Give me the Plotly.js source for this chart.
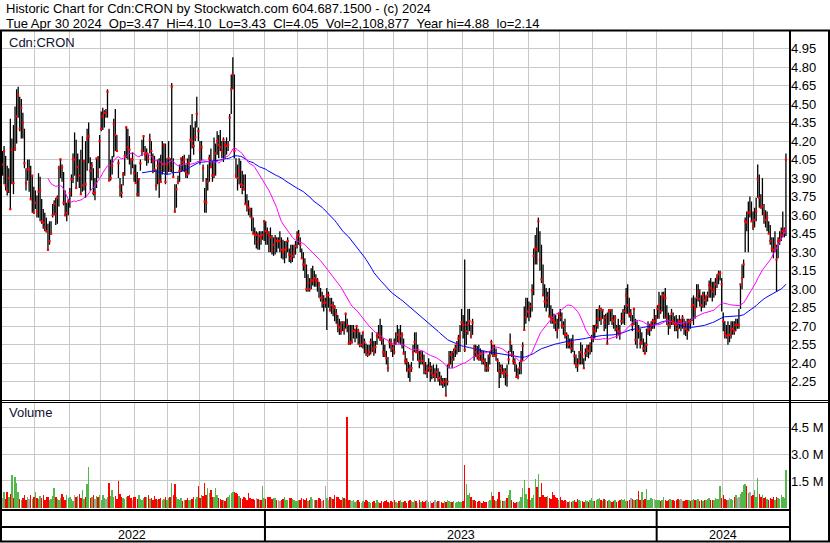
<!DOCTYPE html>
<html><head><meta charset="utf-8">
<script src="https://cdn.plot.ly/plotly-3.0.1.min.js"></script>
<style>html,body{margin:0;padding:0;background:#fff;overflow:hidden}#chart{width:830px;height:543px}</style>
</head><body><div id="chart"></div>
<script>
// ---- data (daily bars, Cdn:CRON, May 2022 - Apr 2024) ----
const startDate = '2022-05-02';
const holidays = ['2022-05-23','2022-07-01','2022-08-01','2022-09-05','2022-10-10','2022-12-26','2022-12-27',
  '2023-01-02','2023-02-20','2023-04-07','2023-05-22','2023-07-03','2023-08-07','2023-09-04','2023-10-09','2023-12-25','2023-12-26',
  '2024-01-01','2024-02-19','2024-03-29'];

const high = [
4.12,4.16,4.08,4.00,3.98,4.38,4.22,4.33,4.48,4.62,
4.64,4.56,4.54,4.43,4.30,3.98,4.05,4.05,4.00,3.92,
3.83,3.80,3.76,3.94,3.91,3.73,3.65,3.62,3.58,3.53,
3.55,3.55,3.69,3.72,3.74,3.76,4.00,4.06,4.01,3.95,
3.80,3.70,3.73,3.82,3.93,4.10,4.27,4.21,4.10,4.05,
4.13,4.24,4.04,4.20,4.30,4.35,4.07,4.03,3.98,3.90,
4.06,4.08,4.25,4.44,4.47,4.45,4.46,4.62,4.30,4.05,
4.08,4.38,4.46,4.25,4.05,3.90,3.85,3.95,4.12,4.32,
4.30,4.24,4.06,4.11,4.01,4.01,3.95,3.90,4.05,4.21,
4.24,4.16,4.14,4.10,4.26,4.20,4.10,4.08,3.97,4.05,
4.06,4.09,4.20,4.18,4.18,4.06,4.20,4.06,4.67,4.06,
3.85,3.85,3.92,4.01,4.06,4.08,4.09,4.01,4.06,4.09,
4.33,4.42,4.31,4.36,4.56,4.31,4.20,4.20,4.01,3.82,
3.90,4.01,4.09,4.14,4.04,4.23,4.18,4.28,4.25,4.29,
4.20,4.23,4.20,4.23,4.20,4.42,4.74,4.88,4.74,4.06,
4.01,4.06,4.04,3.96,3.93,3.93,3.77,3.72,3.66,3.66,
3.58,3.50,3.47,3.46,3.47,3.47,3.47,3.56,3.55,3.50,
3.47,3.50,3.44,3.42,3.44,3.42,3.42,3.47,3.42,3.40,
3.39,3.39,3.42,3.33,3.36,3.36,3.36,3.39,3.47,3.48,
3.42,3.33,3.30,3.25,3.20,3.12,3.09,3.17,3.19,3.15,
3.12,
3.09,3.06,3.01,2.98,2.95,2.93,3.01,2.98,2.93,2.93,
2.90,2.87,2.84,2.79,2.76,2.74,2.74,2.74,2.81,2.76,
2.71,2.71,2.71,2.71,2.68,2.71,2.68,2.65,2.63,2.65,
2.60,2.56,2.55,2.55,2.60,2.65,2.58,2.58,2.65,2.71,
2.76,2.71,2.60,2.55,2.50,2.45,2.60,2.60,2.55,2.60,
2.65,2.71,2.68,2.71,2.65,2.60,2.50,2.44,2.41,2.39,
2.41,2.55,2.65,2.65,2.55,2.50,2.50,2.50,2.47,2.41,
2.39,2.44,2.41,2.38,2.39,2.36,2.39,2.36,2.33,2.30,
2.28,2.28,2.28,2.39,2.50,2.50,2.50,2.52,2.55,2.58,
2.63,2.71,2.84,2.79,3.24,2.74,2.84,2.84,2.71,2.76,
2.55,
2.55,2.54,2.55,2.52,2.50,2.50,2.44,2.41,2.47,2.50,
2.59,2.55,2.55,2.52,2.44,2.41,2.39,2.39,2.36,2.36,
2.39,2.50,2.64,2.55,2.50,2.44,2.39,2.36,2.41,2.50,
2.57,2.86,2.93,2.93,2.90,2.89,3.04,3.33,3.44,3.50,
3.58,3.47,3.36,3.20,3.04,3.01,2.98,3.01,2.87,2.84,
2.80,2.79,2.76,2.81,2.84,2.81,2.74,2.76,2.65,2.63,
2.60,2.60,2.63,2.50,2.47,2.44,2.50,2.57,2.55,2.44,
2.52,2.55,2.55,2.57,2.63,2.71,2.71,2.84,2.84,2.87,
2.85,2.84,2.79,2.80,2.81,2.84,2.84,2.84,2.79,2.79,
2.71,2.76,2.71,2.81,2.84,2.87,3.01,3.04,2.93,2.84,
2.79,
2.85,2.76,2.74,2.71,2.68,2.65,2.60,2.57,2.68,2.74,
2.72,2.74,2.76,2.84,2.79,2.87,2.98,2.95,2.98,2.98,
3.01,2.87,2.81,2.79,2.84,2.81,2.78,2.79,2.76,2.79,
2.76,2.79,2.76,2.74,2.76,2.76,2.76,2.93,2.95,2.93,
3.04,3.04,3.00,2.95,2.98,2.98,2.95,2.98,3.07,3.09,
3.06,3.06,3.09,3.12,3.15,3.15,3.09,2.81,2.74,2.71,
2.74,2.71,2.74,2.74,2.74,2.76,2.76,2.84,3.04,3.20,
3.24,3.58,3.63,3.71,3.75,3.71,3.63,3.66,3.74,4.01,
3.93,3.77,3.90,3.69,3.64,3.63,3.55,3.52,3.42,3.42,
3.47,3.36,3.42,3.47,3.50,3.63,3.50,4.10];

const low = [
3.92,3.85,3.80,3.76,3.78,3.64,3.85,3.77,4.12,4.18,
4.39,4.28,4.22,4.22,3.98,3.80,3.88,3.79,3.72,3.62,
3.61,3.65,3.58,3.58,3.55,3.53,3.49,3.47,3.46,3.31,
3.36,3.44,3.58,3.60,3.52,3.53,3.67,3.90,3.87,3.68,
3.59,3.55,3.60,3.66,3.75,3.86,3.92,3.82,3.87,3.82,
3.77,3.79,3.80,3.74,3.96,4.02,3.80,3.88,3.76,3.72,
3.82,3.90,3.98,4.28,4.29,4.31,4.39,4.39,3.88,3.88,
3.93,4.07,4.12,4.12,3.90,3.75,3.74,3.84,3.92,4.06,
4.05,4.01,3.93,3.98,3.87,3.86,3.75,3.75,3.96,4.08,
4.11,4.04,4.00,4.02,4.10,4.02,3.94,3.95,3.80,3.85,
3.74,3.87,3.93,3.95,3.85,3.93,3.95,3.95,3.95,3.91,
3.62,3.66,3.85,3.87,3.95,3.96,3.95,3.90,3.90,3.93,
4.03,4.14,4.09,4.20,4.31,4.20,4.01,4.04,3.87,3.62,
3.62,3.80,3.87,3.98,3.87,3.90,3.92,4.09,4.06,4.12,
4.06,4.03,4.06,4.09,4.12,4.20,4.42,4.62,4.06,3.90,
3.80,3.85,3.82,3.77,3.80,3.69,3.63,3.60,3.58,3.47,
3.45,3.36,3.33,3.32,3.32,3.36,3.40,3.39,3.36,3.36,
3.30,3.30,3.28,3.27,3.28,3.30,3.33,3.30,3.25,3.24,
3.21,3.25,3.30,3.22,3.21,3.22,3.25,3.28,3.33,3.36,
3.30,3.25,3.15,3.09,2.98,2.98,2.98,3.00,3.03,3.02,
3.02,
2.98,2.93,2.90,2.85,2.82,2.85,2.67,2.85,2.82,2.80,
2.78,2.74,2.72,2.65,2.63,2.63,2.66,2.63,2.68,2.65,
2.55,2.55,2.56,2.60,2.57,2.60,2.55,2.53,2.53,2.52,
2.48,2.46,2.45,2.46,2.47,2.49,2.46,2.48,2.55,2.60,
2.58,2.55,2.45,2.45,2.39,2.33,2.52,2.49,2.45,2.47,
2.55,2.57,2.56,2.55,2.52,2.47,2.39,2.33,2.28,2.25,
2.33,2.42,2.49,2.49,2.42,2.36,2.39,2.39,2.31,2.31,
2.28,2.33,2.25,2.27,2.28,2.25,2.28,2.25,2.22,2.22,
2.20,2.21,2.13,2.22,2.36,2.39,2.36,2.42,2.45,2.47,
2.49,2.49,2.66,2.60,2.49,2.55,2.63,2.66,2.60,2.63,
2.42,
2.45,2.43,2.42,2.42,2.39,2.39,2.33,2.33,2.33,2.39,
2.47,2.45,2.45,2.42,2.33,2.20,2.28,2.31,2.28,2.22,
2.21,2.39,2.49,2.45,2.39,2.33,2.28,2.27,2.31,2.31,
2.42,2.67,2.72,2.77,2.74,2.77,2.82,2.95,3.20,3.20,
3.30,3.15,3.05,2.95,2.85,2.82,2.85,2.77,2.72,2.72,
2.68,2.66,2.60,2.68,2.74,2.68,2.63,2.60,2.52,2.52,
2.52,2.48,2.49,2.39,2.36,2.33,2.39,2.39,2.39,2.36,
2.42,2.45,2.44,2.47,2.49,2.57,2.60,2.65,2.68,2.74,
2.71,2.76,2.66,2.68,2.55,2.71,2.74,2.71,2.68,2.66,
2.60,2.63,2.59,2.71,2.72,2.71,2.80,2.80,2.77,2.74,
2.66,
2.71,2.55,2.52,2.60,2.52,2.55,2.49,2.47,2.49,2.63,
2.62,2.66,2.68,2.68,2.71,2.76,2.76,2.80,2.82,2.76,
2.76,2.71,2.63,2.68,2.71,2.71,2.66,2.66,2.60,2.68,
2.66,2.68,2.63,2.62,2.59,2.66,2.68,2.74,2.71,2.76,
2.85,2.90,2.86,2.82,2.85,2.85,2.87,2.90,2.93,2.93,
2.90,2.93,2.95,3.01,3.04,3.07,2.82,2.66,2.60,2.60,
2.55,2.57,2.60,2.63,2.63,2.66,2.68,2.68,2.84,3.00,
3.09,3.30,3.47,3.30,3.58,3.55,3.48,3.50,3.55,3.74,
3.66,3.66,3.60,3.53,3.50,3.47,3.45,3.36,3.30,3.25,
3.30,2.98,3.25,3.36,3.39,3.42,3.42,3.43];

const close = [
4.01,4.12,3.84,3.80,3.90,3.65,4.13,3.86,4.14,4.40,
4.57,4.30,4.47,4.35,4.02,3.86,3.97,3.97,3.73,3.92,
3.62,3.70,3.63,3.79,3.80,3.55,3.54,3.50,3.47,3.32,
3.39,3.45,3.60,3.69,3.61,3.74,3.98,4.05,3.99,3.70,
3.60,3.62,3.71,3.78,3.89,4.05,4.05,3.82,3.99,3.92,
3.77,3.84,4.04,3.85,4.22,4.24,3.96,4.00,3.78,3.78,
4.06,3.95,4.20,4.30,4.40,4.43,4.43,4.60,3.88,3.90,
4.00,4.34,4.25,4.12,4.02,3.83,3.78,3.93,4.08,4.31,
4.15,4.13,4.05,4.05,3.94,3.86,3.77,3.89,4.02,4.12,
4.24,4.09,4.10,4.06,4.21,4.12,4.04,3.97,3.84,4.00,
3.88,3.87,4.01,4.17,3.87,4.01,4.06,3.98,4.64,3.91,
3.63,3.81,3.87,3.96,4.06,4.03,4.05,3.95,3.93,4.02,
4.21,4.20,4.16,4.23,4.42,4.28,4.13,4.15,3.98,3.71,
3.70,3.87,4.06,3.99,3.92,3.93,4.10,4.20,4.17,4.15,
4.12,4.21,4.17,4.16,4.17,4.39,4.62,4.74,4.12,3.92,
3.90,3.96,3.85,3.84,3.81,3.69,3.68,3.66,3.64,3.58,
3.45,3.44,3.44,3.38,3.43,3.42,3.44,3.55,3.47,3.46,
3.44,3.42,3.32,3.36,3.40,3.39,3.39,3.39,3.32,3.30,
3.32,3.33,3.39,3.28,3.25,3.27,3.30,3.35,3.42,3.44,
3.36,3.25,3.20,3.19,3.00,3.05,3.00,3.07,3.07,3.09,
3.07,
3.07,3.04,2.93,2.93,2.89,2.89,2.95,2.95,2.83,2.87,
2.86,2.85,2.80,2.71,2.69,2.66,2.73,2.67,2.80,2.71,
2.56,2.57,2.57,2.66,2.67,2.70,2.66,2.55,2.55,2.65,
2.57,2.50,2.47,2.49,2.57,2.52,2.49,2.53,2.62,2.63,
2.60,2.59,2.49,2.47,2.44,2.36,2.57,2.55,2.52,2.49,
2.57,2.63,2.60,2.62,2.63,2.48,2.42,2.41,2.35,2.34,
2.36,2.49,2.57,2.49,2.49,2.42,2.46,2.42,2.39,2.33,
2.33,2.36,2.36,2.32,2.30,2.30,2.33,2.28,2.28,2.25,
2.24,2.25,2.14,2.25,2.39,2.47,2.43,2.49,2.52,2.55,
2.60,2.62,2.73,2.71,2.51,2.66,2.71,2.74,2.62,2.73,
2.52,
2.49,2.46,2.44,2.48,2.43,2.42,2.39,2.36,2.36,2.46,
2.57,2.54,2.46,2.47,2.42,2.33,2.36,2.32,2.33,2.33,
2.30,2.43,2.57,2.47,2.42,2.40,2.29,2.29,2.36,2.42,
2.54,2.67,2.77,2.82,2.81,2.86,2.99,3.27,3.33,3.32,
3.55,3.24,3.08,2.95,2.90,2.89,2.93,2.78,2.77,2.75,
2.74,2.73,2.67,2.80,2.77,2.71,2.70,2.63,2.63,2.55,
2.56,2.52,2.57,2.46,2.39,2.38,2.42,2.49,2.46,2.36,
2.48,2.52,2.50,2.54,2.60,2.68,2.66,2.71,2.76,2.84,
2.76,2.83,2.73,2.77,2.56,2.82,2.83,2.76,2.74,2.77,
2.68,2.66,2.65,2.74,2.78,2.82,2.95,2.87,2.80,2.80,
2.71,
2.84,2.59,2.68,2.66,2.56,2.57,2.52,2.48,2.55,2.66,
2.68,2.71,2.74,2.74,2.77,2.84,2.87,2.82,2.93,2.95,
2.93,2.77,2.71,2.73,2.80,2.74,2.72,2.71,2.68,2.74,
2.74,2.77,2.71,2.68,2.66,2.74,2.73,2.86,2.87,2.84,
2.93,2.98,2.92,2.87,2.95,2.91,2.93,2.95,3.03,3.01,
2.98,3.00,3.04,3.09,3.12,3.13,3.04,2.74,2.64,2.62,
2.63,2.63,2.67,2.68,2.66,2.71,2.71,2.71,3.04,3.09,
3.20,3.55,3.54,3.62,3.62,3.55,3.51,3.56,3.63,3.89,
3.74,3.66,3.67,3.61,3.56,3.58,3.45,3.39,3.33,3.32,
3.36,3.24,3.39,3.40,3.44,3.47,3.48,4.05];

// volume in millions of shares
const volume = [
0.55,0.85,0.48,0.90,0.62,0.75,1.84,0.52,1.70,1.36,
0.90,0.50,0.42,0.55,0.68,0.45,0.58,0.50,0.72,0.48,
0.62,0.90,0.55,0.48,0.66,0.52,0.70,0.44,0.58,0.62,
0.45,0.50,0.66,1.10,0.58,0.48,0.40,0.52,0.76,0.60,
0.45,0.72,0.55,0.62,0.50,0.38,0.70,0.58,0.66,0.74,
0.52,1.00,0.48,0.62,1.30,2.30,0.55,0.62,0.70,0.50,
0.64,0.58,0.72,0.45,0.70,0.55,0.48,0.60,1.36,0.66,
1.00,0.58,0.66,0.50,1.50,0.75,0.62,0.55,0.48,0.60,
0.66,0.70,0.52,0.45,0.62,0.58,0.50,0.72,0.48,0.40,
0.55,0.62,0.58,0.70,0.48,0.52,0.45,0.66,0.50,0.42,
0.48,0.55,0.40,0.50,0.62,0.45,0.52,0.58,1.40,0.72,
1.30,0.60,0.48,0.40,0.55,0.38,0.45,0.40,0.52,0.45,
0.40,0.50,0.58,0.48,0.62,1.20,0.55,0.70,0.66,1.36,
0.70,1.10,0.80,1.00,0.62,0.58,1.10,0.70,0.55,0.48,
0.40,0.45,0.38,0.52,0.62,0.70,0.80,0.90,0.85,0.80,
0.75,0.66,0.55,0.48,0.60,0.52,0.45,0.80,0.55,0.48,
0.50,0.42,0.55,0.48,0.40,0.45,1.20,0.55,0.50,0.60,
0.58,0.62,0.48,0.55,0.52,0.45,0.40,0.38,0.45,0.50,
0.58,0.45,0.40,0.52,0.55,0.48,0.42,0.38,0.35,0.40,
0.45,0.55,0.48,0.40,0.52,0.38,0.45,0.62,0.50,0.45,
0.40,0.42,0.55,0.48,0.38,0.45,1.20,0.52,0.45,0.60,
0.55,0.48,0.70,0.62,0.58,0.50,0.45,0.62,0.55,0.50,
5.10,0.45,0.40,0.35,0.42,0.30,0.38,0.45,0.32,0.28,
0.35,0.30,0.42,0.38,0.32,0.25,0.30,0.36,0.28,0.40,
0.32,0.28,0.35,0.30,0.38,0.42,0.30,0.28,0.35,0.32,
0.40,0.30,0.28,0.35,0.45,0.32,0.30,0.38,0.28,0.35,
0.42,0.38,0.30,0.45,0.35,0.28,0.40,0.32,0.35,0.30,
0.38,0.42,0.30,0.35,0.28,0.32,0.40,0.30,0.35,0.38,
0.32,0.28,0.35,0.30,0.42,0.38,0.32,0.30,0.35,0.28,
0.30,0.35,0.32,0.30,0.38,2.40,1.30,0.70,0.80,0.60,
0.45,0.40,0.35,0.30,0.38,0.32,0.28,0.35,0.30,0.32,
0.38,0.42,0.90,0.65,0.40,0.35,0.50,0.85,0.45,0.38,
0.35,0.42,0.55,0.70,1.00,0.45,0.30,0.28,0.32,0.30,
0.35,0.60,1.10,1.55,0.75,0.50,1.10,0.45,0.55,0.70,
1.60,1.15,1.90,0.60,1.36,0.70,0.62,0.58,0.65,0.55,
0.50,0.85,0.70,0.62,0.55,0.45,0.60,0.40,0.38,0.45,
0.35,0.32,0.38,0.30,0.35,0.40,0.32,0.50,0.45,0.38,
0.35,0.30,0.42,0.38,0.32,0.45,0.52,0.38,0.35,0.42,
0.48,0.55,0.40,0.35,0.50,0.45,0.38,0.42,0.35,0.30,
0.38,0.45,0.32,0.35,0.40,0.48,0.42,0.50,0.38,0.35,
0.42,0.55,0.48,0.40,0.45,0.50,0.95,0.45,0.85,0.40,
0.50,1.04,0.45,0.40,0.55,0.48,0.50,0.42,0.45,0.40,
0.38,0.45,0.60,0.42,0.38,0.45,0.50,0.40,0.42,0.38,
0.45,0.50,0.42,0.48,0.38,0.35,0.42,0.45,0.40,0.38,
0.42,0.48,0.40,0.45,0.50,0.38,0.42,0.35,0.40,0.45,
0.48,0.52,0.45,0.40,0.42,0.55,0.48,0.50,1.23,0.55,
0.70,0.48,0.45,0.42,0.55,0.50,0.45,0.62,0.70,0.55,
0.60,0.75,0.90,1.27,1.33,1.20,0.80,0.85,0.65,0.70,
1.00,0.62,1.65,0.75,0.60,0.70,0.55,0.62,0.50,0.45,
0.55,0.48,0.62,0.45,0.58,0.55,0.50,0.72,0.60,0.55,
2.11];

const priceTicks = [2.25,2.40,2.55,2.70,2.85,3.00,3.15,3.30,3.45,3.60,3.75,3.90,4.05,4.20,4.35,4.50,4.65,4.80,4.95];
const priceTickText = ['2.25','2.40','2.55','2.70','2.85','3.00','3.15','3.30','3.45','3.60','3.75','3.90','4.05','4.20','4.35','4.50','4.65','4.80','4.95'];
const volumeTicks = [1.5, 3.0, 4.5];
const volumeTickText = ['1.5 M','3.0 M','4.5 M'];
const maShortPeriod = 30, maLongPeriod = 90;
const headerLine1 = 'Historic Chart for Cdn:CRON by Stockwatch.com 604.687.1500 - (c) 2024';
const headerLine2 = 'Tue Apr 30 2024  Op=3.47  Hi=4.10  Lo=3.43  Cl=4.05  Vol=2,108,877  Year hi=4.88  lo=2.14';
const symbolLabel = 'Cdn:CRON';
const volumeLabel = 'Volume';

// ---- derived ----
function tradingDays(n){
  const out=[]; const d=new Date(startDate+'T00:00:00Z');
  while(out.length<n){
    const wd=d.getUTCDay(); const s=d.toISOString().slice(0,10);
    if(wd>0 && wd<6 && !holidays.includes(s)) out.push(s);
    d.setUTCDate(d.getUTCDate()+1);
  }
  return out;
}
const N = close.length;
const dates = tradingDays(N);
const idx = dates.map((_,i)=>i);
const monthGrid=[], yearStarts=[];
for(let i=1;i<N;i++){
  if(dates[i].slice(0,7)!==dates[i-1].slice(0,7)) monthGrid.push(i-0.5);
  if(dates[i].slice(0,4)!==dates[i-1].slice(0,4)) yearStarts.push(i);
}
function sma(arr,p){return arr.map((_,i)=>{if(i<p-1)return null;let s=0;for(let k=i-p+1;k<=i;k++)s+=arr[k];return s/p;});}
const maShort = sma(close, maShortPeriod);
const maLong = sma(close, maLongPeriod);

const barX=[], barY=[];
for(let i=0;i<N;i++){barX.push(i,i,null);barY.push(low[i],high[i],null);}
const volColors = close.map((c,i)=> i===0 ? '#a8a8a8' : (c>close[i-1] ? '#52b84a' : (c<close[i-1] ? '#ff0000' : '#a8a8a8')));

// ---- layout geometry (pixels -> paper) ----
const W=830, H=543;
const PX = p=>p/W, PY = p=>1-p/H;
const xr = [-1.6, 502.6];
const FONT = 'Liberation Sans, Arial, sans-serif';
const gridC = '#c8c8c8';
const HDR = 13;

const traces = [
  {type:'scatter', mode:'lines', x:barX, y:barY, xaxis:'x', yaxis:'y', line:{color:'#000', width:1.3}, connectgaps:false, hoverinfo:'skip'},
  {type:'scatter', mode:'lines', x:idx, y:maLong, xaxis:'x', yaxis:'y', line:{color:'#0000ff', width:1}},
  {type:'scatter', mode:'lines', x:idx, y:maShort, xaxis:'x', yaxis:'y', line:{color:'#ff00ff', width:1}},
  {type:'scatter', mode:'markers', x:idx, y:close, xaxis:'x', yaxis:'y', marker:{symbol:'square', size:2.2, color:'#ff0000', line:{width:0}}},
  {type:'bar', x:idx, y:volume, xaxis:'x2', yaxis:'y2', marker:{color:volColors, line:{width:0}}, width:0.92}
];

const yearBounds = [xr[0], ...yearStarts.map(s=>s-0.5), xr[1]];
const yearLabels = [dates[0].slice(0,4), ...yearStarts.map(s=>dates[s].slice(0,4))];

const shapes = [
  {type:'rect', xref:'paper', yref:'paper', x0:PX(1), x1:PX(829), y0:PY(541.5), y1:PY(30.5), line:{color:'#000', width:2}},
  {type:'line', xref:'paper', yref:'paper', x0:PX(790), x1:PX(790), y0:PY(541.5), y1:PY(30.5), line:{color:'#000', width:2}},
  {type:'line', xref:'paper', yref:'paper', x0:0, x1:PX(829), y0:PY(400.5), y1:PY(400.5), line:{color:'#000', width:1}},
  {type:'line', xref:'paper', yref:'paper', x0:0, x1:PX(829), y0:PY(402.5), y1:PY(402.5), line:{color:'#000', width:1}},
  {type:'line', xref:'paper', yref:'paper', x0:0, x1:PX(790), y0:PY(510), y1:PY(510), line:{color:'#000', width:2}},
  {type:'line', xref:'paper', yref:'paper', x0:0, x1:PX(790), y0:PY(527), y1:PY(527), line:{color:'#000', width:2}},
  ...yearStarts.map(s=>({type:'line', xref:'x', yref:'paper', x0:s-0.5, x1:s-0.5, y0:PY(541.5), y1:PY(510), line:{color:'#000', width:2}}))
];

const annotations = [
  {text:headerLine1.replace(/  /g,'\u00a0\u00a0'), xref:'paper', yref:'paper', x:PX(4), y:PY(8.3), xanchor:'left', yanchor:'middle', showarrow:false, font:{family:FONT, size:HDR, color:'#000'}},
  {text:headerLine2.replace(/  /g,'\u00a0\u00a0'), xref:'paper', yref:'paper', x:PX(4), y:PY(23.6), xanchor:'left', yanchor:'middle', showarrow:false, font:{family:FONT, size:HDR, color:'#000'}},
  {text:symbolLabel, xref:'paper', yref:'paper', x:PX(7), y:PY(42), xanchor:'left', yanchor:'middle', showarrow:false, font:{family:FONT, size:13, color:'#101030'}},
  {text:volumeLabel, xref:'paper', yref:'paper', x:PX(7), y:PY(413), xanchor:'left', yanchor:'middle', showarrow:false, font:{family:FONT, size:13, color:'#101030'}},
  ...yearLabels.map((t,k)=>({text:t, xref:'x', yref:'paper', x:(yearBounds[k]+yearBounds[k+1])/2, y:PY(535), xanchor:'center', yanchor:'middle', showarrow:false, font:{family:FONT, size:12.5, color:'#000'}}))
];

const layout = {
  width:W, height:H, margin:{l:0,r:0,t:0,b:0,pad:0},
  paper_bgcolor:'#fff', plot_bgcolor:'#fff', showlegend:false,
  font:{family:FONT, size:13, color:'#000'},
  xaxis:{domain:[0,PX(790)], range:xr, anchor:'y', tickmode:'array', tickvals:monthGrid, showticklabels:false, ticks:'', showgrid:true, gridcolor:gridC, gridwidth:1, zeroline:false, showline:false, fixedrange:true},
  xaxis2:{domain:[0,PX(790)], range:xr, anchor:'y2', matches:'x', tickmode:'array', tickvals:monthGrid, showticklabels:false, ticks:'', showgrid:true, gridcolor:gridC, gridwidth:1, zeroline:false, showline:false},
  yaxis:{domain:[PY(400), PY(31)], range:[2.102, 5.092], side:'right', tickmode:'array', tickvals:priceTicks, ticktext:priceTickText, ticks:'', showgrid:true, gridcolor:gridC, gridwidth:1, zeroline:false, showline:false, tickfont:{family:FONT, size:13, color:'#000'}},
  yaxis2:{domain:[PY(509.5), PY(402.7)], range:[-0.113, 5.92], side:'right', tickmode:'array', tickvals:volumeTicks, ticktext:volumeTickText, ticks:'', showgrid:true, gridcolor:gridC, gridwidth:1, zeroline:false, showline:false, tickfont:{family:FONT, size:13, color:'#000'}},
  shapes:shapes, annotations:annotations, bargap:0
};

Plotly.newPlot('chart', traces, layout, {staticPlot:true, displayModeBar:false});
</script>
</body></html>
